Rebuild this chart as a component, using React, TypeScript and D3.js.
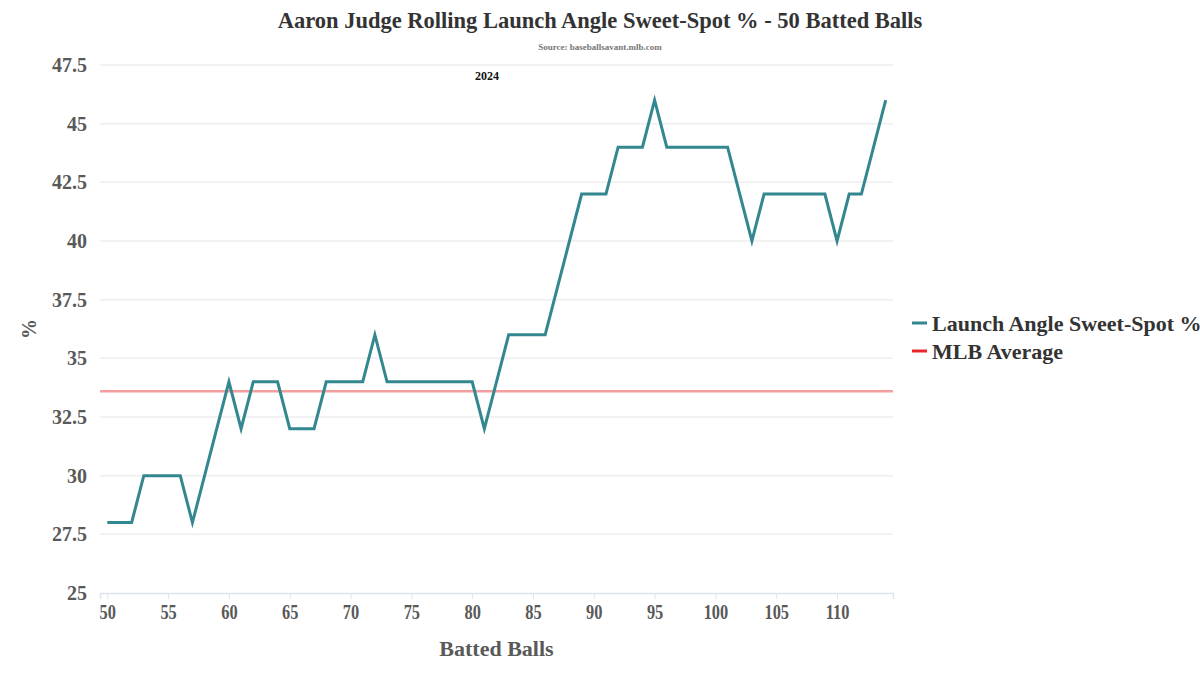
import { axisBottom, axisLeft, line, scaleLinear, select } from 'd3';
import { useEffect, useRef } from 'react';

const battedBalls = [
  50, 51, 52, 53, 54, 55, 56, 57, 58, 59, 60, 61, 62, 63, 64, 65, 66, 67, 68, 69, 70, 71, 72, 73, 74, 75, 76, 77, 78, 79, 80, 81,
  82, 83, 84, 85, 86, 87, 88, 89, 90, 91, 92, 93, 94, 95, 96, 97, 98, 99, 100, 101, 102, 103, 104, 105, 106, 107, 108, 109, 110,
  111, 112, 113, 114,
];
const sweetSpot = [
  28, 28, 28, 30, 30, 30, 30, 28, 30, 32, 34, 32, 34, 34, 34, 32, 32, 32, 34, 34, 34, 34, 36, 34, 34, 34, 34, 34, 34, 34, 34, 32,
  34, 36, 36, 36, 36, 38, 40, 42, 42, 42, 44, 44, 44, 46, 44, 44, 44, 44, 44, 44, 42, 40, 42, 42, 42, 42, 42, 42, 40,
  42, 42, 44, 46,
];
const mlbAverage = 33.6;
const xTicks = [50, 55, 60, 65, 70, 75, 80, 85, 90, 95, 100, 105, 110];
const yTicks = [25, 27.5, 30, 32.5, 35, 37.5, 40, 42.5, 45, 47.5];
const legendItems = [
  { label: 'Launch Angle Sweet-Spot %', color: '#33878e' },
  { label: 'MLB Average', color: '#e8262b' },
];

const serif = '"Liberation Serif", "DejaVu Serif", serif';

export default function App() {
  const width = 1200;
  const height = 675;
  const margin = { top: 65, bottom: 82, left: 100, right: 307 };
  const gx = useRef(null);
  const gy = useRef(null);

  const xScale = scaleLinear()
    .domain([49.4, 114.6])
    .range([margin.left, width - margin.right]);
  const yScale = scaleLinear()
    .domain([25, 47.5])
    .range([height - margin.bottom, margin.top]);

  const data = battedBalls.map((b, i) => ({ b, v: sweetSpot[i] }));
  const lineGenerator = line<{ b: number; v: number }>()
    .x((d) => xScale(d.b))
    .y((d) => yScale(d.v));

  useEffect(() => {
    const g = select(gx.current);
    g.call(axisBottom(xScale).tickValues(xTicks).tickSize(6).tickPadding(5));
    g.select('.domain').attr('stroke', '#dce3f0').attr('stroke-width', 1.5);
    g.selectAll('.tick line').attr('stroke', '#dce3f0');
    g.selectAll('.tick text')
      .attr('fill', '#595959')
      .attr('transform', 'scale(0.78,1)')
      .style('font-family', serif)
      .style('font-weight', 'bold')
      .style('font-size', '21px');
  }, []);

  useEffect(() => {
    const g = select(gy.current);
    g.call(
      axisLeft(yScale)
        .tickValues(yTicks)
        .tickSize(0)
        .tickPadding(13)
        .tickFormat((d) => String(d)),
    );
    g.select('.domain').remove();
    g.selectAll('.tick text')
      .attr('fill', '#595959')
      .style('font-family', serif)
      .style('font-weight', 'bold')
      .style('font-size', '20px');
  }, []);

  return (
    <svg
      width={width}
      height={height}
      style={{ position: 'absolute', left: 0, top: 0, background: '#fff' }}>
      <text
        x={600}
        y={28}
        textAnchor='middle'
        fill='#333'
        style={{ fontFamily: serif, fontWeight: 'bold', fontSize: 22.5 }}>
        Aaron Judge Rolling Launch Angle Sweet-Spot % - 50 Batted Balls
      </text>
      <text
        x={600}
        y={50}
        textAnchor='middle'
        fill='#777'
        style={{ fontFamily: serif, fontWeight: 'bold', fontSize: 9 }}>
        Source: baseballsavant.mlb.com
      </text>
      <g>
        {yTicks
          .filter((t) => t > 25)
          .map((t) => (
            <line
              key={t}
              x1={margin.left}
              x2={width - margin.right}
              y1={yScale(t)}
              y2={yScale(t)}
              stroke='#eeeeee'
              strokeWidth={1.5}
            />
          ))}
      </g>
      <text
        x={487}
        y={80}
        textAnchor='middle'
        fill='#111'
        style={{ fontFamily: serif, fontWeight: 'bold', fontSize: 12 }}>
        2024
      </text>
      <line
        x1={margin.left}
        x2={width - margin.right}
        y1={yScale(mlbAverage)}
        y2={yScale(mlbAverage)}
        stroke='#e8262b'
        strokeOpacity={0.45}
        strokeWidth={2.5}
      />
      <path
        d={lineGenerator(data) ?? ''}
        fill='none'
        stroke='#33878e'
        strokeWidth={3}
        strokeLinejoin='miter'
      />
      <g
        ref={gy}
        transform={`translate(${margin.left}, 0)`}></g>
      <g
        ref={gx}
        transform={`translate(0, ${height - margin.bottom})`}></g>
      <text
        transform={`translate(36, ${(margin.top + height - margin.bottom) / 2}) rotate(-90)`}
        textAnchor='middle'
        fill='#595959'
        style={{ fontFamily: serif, fontWeight: 'bold', fontSize: 20 }}>
        %
      </text>
      <text
        x={(margin.left + width - margin.right) / 2}
        y={656}
        textAnchor='middle'
        fill='#595959'
        style={{ fontFamily: serif, fontWeight: 'bold', fontSize: 22 }}>
        Batted Balls
      </text>
      <g transform='translate(912, 323)'>
        {legendItems.map((item, i) => (
          <g
            key={item.label}
            transform={`translate(0, ${i * 28})`}>
            <line
              x1={0}
              x2={15}
              y1={0}
              y2={0}
              stroke={item.color}
              strokeWidth={3}
            />
            <text
              x={20}
              y={7.5}
              fill='#333'
              style={{ fontFamily: serif, fontWeight: 'bold', fontSize: 22 }}>
              {item.label}
            </text>
          </g>
        ))}
      </g>
    </svg>
  );
}
